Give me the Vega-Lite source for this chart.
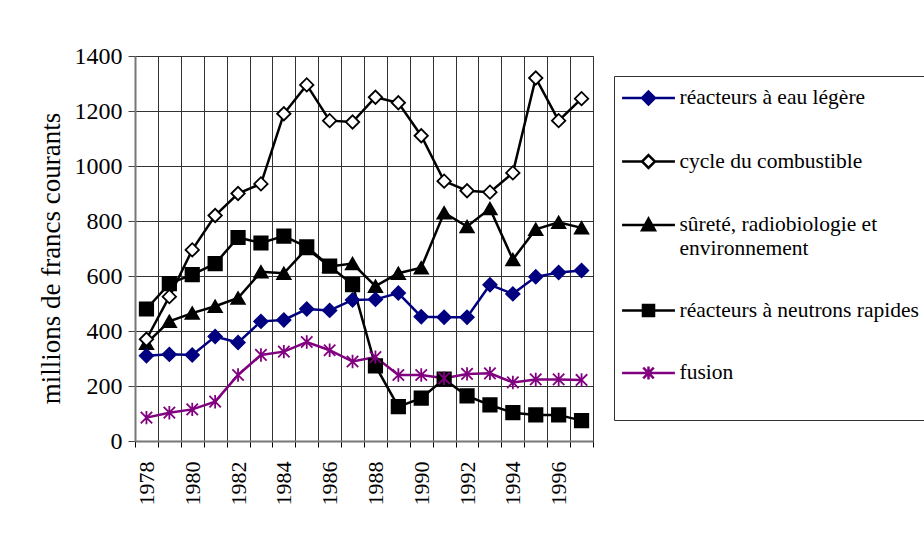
{
  "$schema": "https://vega.github.io/schema/vega-lite/v6.json",
  "autosize": "none",
  "width": 458,
  "height": 385,
  "padding": {"left": 135, "top": 56, "right": 331, "bottom": 92},
  "background": "white",
  "config": {
    "font": "Liberation Serif",
    "view": {"stroke": "#555", "strokeWidth": 1},
    "legend": {
      "orient": "none", "legendX": 479, "legendY": 20,
      "strokeColor": "#333", "padding": 9, "fillColor": "white",
      "symbolSize": 552, "symbolOpacity": 1, "symbolOffset": 12.5,
      "rowPadding": 38.5,
      "titleOrient": "bottom", "titleFontSize": 18, "titlePadding": 9,
      "labelFont": "Liberation Serif", "labelFontSize": 21.5, "labelColor": "black", "labelLimit": 400, "labelOffset": 18
    }
  },
  "data": {
    "values": [
      {"year": 1978, "réacteurs à eau légère": 310, "cycle du combustible": 370, "sûreté, radiobiologie et environnement": 355, "réacteurs à neutrons rapides": 480, "fusion": 85},
      {"year": 1979, "réacteurs à eau légère": 315, "cycle du combustible": 525, "sûreté, radiobiologie et environnement": 435, "réacteurs à neutrons rapides": 572, "fusion": 103},
      {"year": 1980, "réacteurs à eau légère": 313, "cycle du combustible": 695, "sûreté, radiobiologie et environnement": 465, "réacteurs à neutrons rapides": 605, "fusion": 115},
      {"year": 1981, "réacteurs à eau légère": 380, "cycle du combustible": 820, "sûreté, radiobiologie et environnement": 490, "réacteurs à neutrons rapides": 645, "fusion": 143},
      {"year": 1982, "réacteurs à eau légère": 358, "cycle du combustible": 900, "sûreté, radiobiologie et environnement": 520, "réacteurs à neutrons rapides": 740, "fusion": 240},
      {"year": 1983, "réacteurs à eau légère": 435, "cycle du combustible": 935, "sûreté, radiobiologie et environnement": 615, "réacteurs à neutrons rapides": 720, "fusion": 313},
      {"year": 1984, "réacteurs à eau légère": 440, "cycle du combustible": 1190, "sûreté, radiobiologie et environnement": 610, "réacteurs à neutrons rapides": 745, "fusion": 325},
      {"year": 1985, "réacteurs à eau légère": 480, "cycle du combustible": 1295, "sûreté, radiobiologie et environnement": 700, "réacteurs à neutrons rapides": 706, "fusion": 360},
      {"year": 1986, "réacteurs à eau légère": 475, "cycle du combustible": 1165, "sûreté, radiobiologie et environnement": 635, "réacteurs à neutrons rapides": 636, "fusion": 330},
      {"year": 1987, "réacteurs à eau légère": 513, "cycle du combustible": 1160, "sûreté, radiobiologie et environnement": 645, "réacteurs à neutrons rapides": 569, "fusion": 289},
      {"year": 1988, "réacteurs à eau légère": 515, "cycle du combustible": 1250, "sûreté, radiobiologie et environnement": 563, "réacteurs à neutrons rapides": 273, "fusion": 305},
      {"year": 1989, "réacteurs à eau légère": 538, "cycle du combustible": 1230, "sûreté, radiobiologie et environnement": 610, "réacteurs à neutrons rapides": 125, "fusion": 240},
      {"year": 1990, "réacteurs à eau légère": 452, "cycle du combustible": 1110, "sûreté, radiobiologie et environnement": 630, "réacteurs à neutrons rapides": 156, "fusion": 240},
      {"year": 1991, "réacteurs à eau légère": 450, "cycle du combustible": 945, "sûreté, radiobiologie et environnement": 830, "réacteurs à neutrons rapides": 225, "fusion": 228},
      {"year": 1992, "réacteurs à eau légère": 450, "cycle du combustible": 910, "sûreté, radiobiologie et environnement": 780, "réacteurs à neutrons rapides": 164, "fusion": 244},
      {"year": 1993, "réacteurs à eau légère": 568, "cycle du combustible": 905, "sûreté, radiobiologie et environnement": 845, "réacteurs à neutrons rapides": 131, "fusion": 246},
      {"year": 1994, "réacteurs à eau légère": 535, "cycle du combustible": 975, "sûreté, radiobiologie et environnement": 660, "réacteurs à neutrons rapides": 103, "fusion": 213},
      {"year": 1995, "réacteurs à eau légère": 597, "cycle du combustible": 1320, "sûreté, radiobiologie et environnement": 770, "réacteurs à neutrons rapides": 95, "fusion": 224},
      {"year": 1996, "réacteurs à eau légère": 613, "cycle du combustible": 1165, "sûreté, radiobiologie et environnement": 795, "réacteurs à neutrons rapides": 95, "fusion": 224},
      {"year": 1997, "réacteurs à eau légère": 620, "cycle du combustible": 1245, "sûreté, radiobiologie et environnement": 775, "réacteurs à neutrons rapides": 74, "fusion": 222}
    ]
  },
  "transform": [
    {"fold": ["réacteurs à neutrons rapides", "sûreté, radiobiologie et environnement", "cycle du combustible", "réacteurs à eau légère", "fusion"], "as": ["series", "value"]}
  ],
  "encoding": {
    "x": {
      "field": "year", "type": "ordinal",
      "scale": {"paddingInner": 0, "paddingOuter": 0},
      "axis": {
        "title": null, "labelAngle": -90,
        "labelExpr": "datum.value % 2 == 0 ? datum.label : ''",
        "tickBand": "extent", "grid": true, "gridColor": "#333", "gridWidth": 1,
        "labelFont": "Liberation Serif", "labelFontSize": 22, "labelColor": "black",
        "domainColor": "#777", "domainWidth": 2, "tickColor": "black", "tickSize": 6,
        "labelPadding": 14, "labelOverlap": false
      }
    },
    "y": {
      "field": "value", "type": "quantitative",
      "scale": {"domain": [0, 1400], "nice": false},
      "axis": {
        "title": "millions de francs courants",
        "values": [0, 200, 400, 600, 800, 1000, 1200, 1400],
        "format": "d",
        "titleFont": "Liberation Serif", "titleFontSize": 27, "titleFontWeight": "normal", "titleColor": "black", "titlePadding": 9, "titleY": 202,
        "labelFont": "Liberation Serif", "labelFontSize": 24, "labelColor": "black", "labelPadding": 6,
        "gridColor": "#333", "gridWidth": 1,
        "domainColor": "#777", "domainWidth": 2, "tickColor": "#444", "tickSize": 7
      }
    }
  },
  "layer": [
    {
      "mark": {"type": "line"},
      "encoding": {
        "color": {
          "field": "series", "type": "nominal",
          "scale": {
            "domain": ["réacteurs à eau légère", "cycle du combustible", "sûreté, radiobiologie et environnement", "réacteurs à neutrons rapides", "fusion"],
            "range": ["#000080", "black", "black", "black", "#800080"]
          },
          "legend": null
        },
        "strokeWidth": {
          "field": "series", "type": "nominal",
          "scale": {
            "domain": ["réacteurs à eau légère", "cycle du combustible", "sûreté, radiobiologie et environnement", "réacteurs à neutrons rapides", "fusion"],
            "range": [2.5, 2.5, 1, 1, 2.5]
          },
          "legend": null
        }
      }
    },
    {
      "mark": {"type": "point", "size": 180, "strokeWidth": 1.8, "opacity": 1},
      "encoding": {
        "shape": {
          "field": "series", "type": "nominal",
          "scale": {
            "domain": ["réacteurs à eau légère", "cycle du combustible", "sûreté, radiobiologie et environnement", "réacteurs à neutrons rapides", "fusion"],
            "range": ["diamond", "diamond", "triangle-up", "square", "M0,-1V1M-0.85,-0.85L0.85,0.85M-0.85,0.85L0.85,-0.85"]
          },
          "legend": null
        },
        "fill": {
          "field": "series", "type": "nominal",
          "scale": {
            "domain": ["réacteurs à eau légère", "cycle du combustible", "sûreté, radiobiologie et environnement", "réacteurs à neutrons rapides", "fusion"],
            "range": ["#000080", "white", "black", "black", "transparent"]
          },
          "legend": null
        },
        "stroke": {
          "field": "series", "type": "nominal",
          "scale": {
            "domain": ["réacteurs à eau légère", "cycle du combustible", "sûreté, radiobiologie et environnement", "réacteurs à neutrons rapides", "fusion"],
            "range": ["#000080", "black", "black", "black", "#800080"]
          },
          "legend": null
        }
      }
    },
    {
      "mark": {"type": "point", "size": 1, "opacity": 0},
      "encoding": {
        "shape": {
          "field": "series", "type": "nominal",
          "scale": {
            "domain": ["réacteurs à eau légère", "cycle du combustible", "sûreté, radiobiologie et environnement", "réacteurs à neutrons rapides", "fusion"],
            "range": [
              "M-2.25,0H-0.55M0.55,0H2.25M0,-0.55L0.55,0L0,0.55L-0.55,0Z",
              "M-2.25,0H-0.55M0.55,0H2.25M0,-0.55L0.55,0L0,0.55L-0.55,0Z",
              "M-2.25,0H-0.3M0.3,0H2.25M0,-0.55L0.55,0.45L-0.55,0.45Z",
              "M-2.25,0H-0.47M0.47,0H2.25M-0.47,-0.47H0.47V0.47H-0.47Z",
              "M-2.25,0H2.25M0,-0.55V0.55M-0.45,-0.45L0.45,0.45M-0.45,0.45L0.45,-0.45"
            ]
          },
          "legend": {
            "title": " ",
            "labelExpr": "datum.label == 'sûreté, radiobiologie et environnement' ? ['sûreté, radiobiologie et', 'environnement'] : datum.label"
          }
        },
        "fill": {
          "field": "series", "type": "nominal",
          "scale": {
            "domain": ["réacteurs à eau légère", "cycle du combustible", "sûreté, radiobiologie et environnement", "réacteurs à neutrons rapides", "fusion"],
            "range": ["#000080", "white", "black", "black", "transparent"]
          },
          "legend": {
            "title": " ",
            "labelExpr": "datum.label == 'sûreté, radiobiologie et environnement' ? ['sûreté, radiobiologie et', 'environnement'] : datum.label"
          }
        },
        "stroke": {
          "field": "series", "type": "nominal",
          "scale": {
            "domain": ["réacteurs à eau légère", "cycle du combustible", "sûreté, radiobiologie et environnement", "réacteurs à neutrons rapides", "fusion"],
            "range": ["#000080", "black", "black", "black", "#800080"]
          },
          "legend": {
            "title": " ",
            "labelExpr": "datum.label == 'sûreté, radiobiologie et environnement' ? ['sûreté, radiobiologie et', 'environnement'] : datum.label"
          }
        },
        "strokeWidth": {
          "field": "series", "type": "nominal",
          "scale": {
            "domain": ["réacteurs à eau légère", "cycle du combustible", "sûreté, radiobiologie et environnement", "réacteurs à neutrons rapides", "fusion"],
            "range": [2.5, 2.5, 1, 1, 2.5]
          },
          "legend": {
            "title": " ",
            "labelExpr": "datum.label == 'sûreté, radiobiologie et environnement' ? ['sûreté, radiobiologie et', 'environnement'] : datum.label"
          }
        }
      }
    }
  ],
  "resolve": {"scale": {"shape": "independent", "fill": "independent", "stroke": "independent", "strokeWidth": "independent"}}
}
